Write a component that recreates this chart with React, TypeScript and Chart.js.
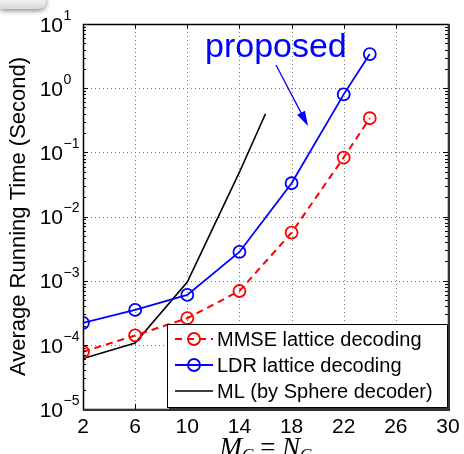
import React, { useEffect, useRef } from "react";
import { Chart, registerables } from "chart.js";

Chart.register(...registerables);

// Antenna counts (M_C = N_C)
const antennas = [2, 6, 10, 14, 18, 22, 24];
const mlAntennas = [2, 6, 10, 14, 16];

// Average running time in seconds
const mmseTime = [7.8e-5, 1.4e-4, 2.6e-4, 6.9e-4, 5.6e-3, 8.3e-2, 0.34];
const ldrTime = [2.2e-4, 3.5e-4, 6.0e-4, 2.8e-3, 3.3e-2, 0.8, 3.4];
const mlTime = [6.1e-5, 1.07e-4, 9.5e-4, 4.9e-2, 0.4];

const seriesLabels = [
  "MMSE lattice decoding",
  "LDR lattice decoding",
  "ML (by Sphere decoder)",
];

const xTicks = [2, 6, 10, 14, 18, 22, 26, 30];
const yExponents = [1, 0, -1, -2, -3, -4, -5];

const SANS = '"Liberation Sans", Arial, sans-serif';
const SERIF = '"Liberation Serif", "Times New Roman", serif';

const decorations = {
  id: "decorations",
  beforeDatasetsDraw(chart: any) {
    const { ctx, chartArea: a, scales } = chart;
    const xs = scales.x;
    const ys = scales.y;
    ctx.save();
    ctx.strokeStyle = "#7a7a7a";
    ctx.lineWidth = 1;
    ctx.setLineDash([1, 3]);
    xTicks.forEach((t) => {
      if (t === 2 || t === 30) return;
      const px = Math.round(xs.getPixelForValue(t)) + 0.5;
      ctx.beginPath();
      ctx.moveTo(px, a.top);
      ctx.lineTo(px, a.bottom);
      ctx.stroke();
    });
    yExponents.forEach((e) => {
      if (e === 1 || e === -5) return;
      const py = Math.round(ys.getPixelForValue(Math.pow(10, e))) + 0.5;
      ctx.beginPath();
      ctx.moveTo(a.left, py);
      ctx.lineTo(a.right, py);
      ctx.stroke();
    });
    ctx.restore();
  },
  afterDatasetsDraw(chart: any) {
    const { ctx, chartArea: a, scales } = chart;
    const xs = scales.x;
    const ys = scales.y;
    ctx.save();

    // tick marks
    ctx.strokeStyle = "#000";
    ctx.lineWidth = 1;
    ctx.setLineDash([]);
    xTicks.forEach((t) => {
      const px = Math.round(xs.getPixelForValue(t)) + 0.5;
      ctx.beginPath();
      ctx.moveTo(px, a.bottom);
      ctx.lineTo(px, a.bottom - 5);
      ctx.moveTo(px, a.top);
      ctx.lineTo(px, a.top + 5);
      ctx.stroke();
    });
    for (let e = -5; e < 1; e++) {
      for (let m = 1; m < 10; m++) {
        const py = Math.round(ys.getPixelForValue(m * Math.pow(10, e))) + 0.5;
        const len = m === 1 ? 5 : 3;
        ctx.beginPath();
        ctx.moveTo(a.left, py);
        ctx.lineTo(a.left + len, py);
        ctx.moveTo(a.right, py);
        ctx.lineTo(a.right - len, py);
        ctx.stroke();
      }
    }

    // frame
    ctx.lineWidth = 1.5;
    ctx.strokeRect(a.left + 0.5, a.top + 0.5, a.right - a.left, a.bottom - a.top);
    ctx.strokeStyle = "#333";
    ctx.lineWidth = 2;
    ctx.beginPath();
    ctx.moveTo(a.right + 1, a.top);
    ctx.lineTo(a.right + 1, a.bottom + 1);
    ctx.lineTo(a.left, a.bottom + 1);
    ctx.stroke();

    // tick labels
    ctx.fillStyle = "#000";
    ctx.textBaseline = "middle";
    ctx.font = `21px ${SANS}`;
    ctx.textAlign = "center";
    xTicks.forEach((t) => {
      ctx.fillText(String(t), xs.getPixelForValue(t), 427);
    });
    yExponents.forEach((e) => {
      const py = ys.getPixelForValue(Math.pow(10, e));
      ctx.font = `21px ${SANS}`;
      ctx.textAlign = "right";
      ctx.fillText("10", 63, py + 2);
      ctx.font = `14px ${SANS}`;
      ctx.textAlign = "left";
      ctx.fillText(e < 0 ? "\u2212" + Math.abs(e) : String(e), 63.5, py - 8);
    });

    // y-axis title
    ctx.save();
    ctx.translate(19, (a.top + a.bottom) / 2);
    ctx.rotate(-Math.PI / 2);
    ctx.font = `22px ${SANS}`;
    ctx.textAlign = "center";
    ctx.textBaseline = "middle";
    ctx.fillText("Average Running Time (Second)", 0, 0);
    ctx.restore();

    // x-axis title: M_C = N_C
    ctx.textBaseline = "alphabetic";
    ctx.textAlign = "left";
    const baseY = 456;
    const big = 27;
    const sub = `italic 17px ${SERIF}`;
    const parts: [string, string, number][] = [
      ["M", `italic ${big}px ${SERIF}`, 0],
      ["C", sub, 4],
      [" = ", `${big}px ${SERIF}`, 0],
      ["N", `italic ${big}px ${SERIF}`, 0],
      ["C", sub, 4],
    ];
    let total = 0;
    parts.forEach(([s, f]) => {
      ctx.font = f;
      total += ctx.measureText(s).width;
    });
    let cx = (a.left + a.right) / 2 - total / 2;
    parts.forEach(([s, f, dy]) => {
      ctx.font = f;
      ctx.fillText(s, cx, baseY + dy);
      cx += ctx.measureText(s).width;
    });

    // annotation
    ctx.fillStyle = "#0000ff";
    ctx.strokeStyle = "#0000ff";
    ctx.font = `34px ${SANS}`;
    ctx.textAlign = "left";
    ctx.fillText("proposed", 205, 57);
    const sx = 276, sy = 65, tx = 308, ty = 126;
    const ang = Math.atan2(ty - sy, tx - sx);
    ctx.lineWidth = 1.3;
    ctx.beginPath();
    ctx.moveTo(sx, sy);
    ctx.lineTo(tx - 10 * Math.cos(ang), ty - 10 * Math.sin(ang));
    ctx.stroke();
    ctx.beginPath();
    ctx.moveTo(tx, ty);
    const hl = 15, hw = 4.5;
    const bx = tx - hl * Math.cos(ang), by = ty - hl * Math.sin(ang);
    ctx.lineTo(bx + hw * Math.sin(ang), by - hw * Math.cos(ang));
    ctx.lineTo(bx - hw * Math.sin(ang), by + hw * Math.cos(ang));
    ctx.closePath();
    ctx.fill();

    // legend
    const lx = 167, ly = 324, lw = 280, lh = 83;
    ctx.fillStyle = "#333";
    ctx.fillRect(lx + 2, ly + 2, lw, lh);
    ctx.fillStyle = "#fff";
    ctx.fillRect(lx, ly, lw, lh);
    ctx.strokeStyle = "#000";
    ctx.lineWidth = 1;
    ctx.strokeRect(lx + 0.5, ly + 0.5, lw, lh);
    const rows = [339, 365, 391];
    chart.data.datasets.forEach((ds: any, i: number) => {
      const ry = rows[i];
      ctx.strokeStyle = ds.borderColor;
      ctx.lineWidth = ds.borderWidth;
      ctx.setLineDash(ds.borderDash || []);
      ctx.beginPath();
      ctx.moveTo(175, ry);
      ctx.lineTo(213, ry);
      ctx.stroke();
      ctx.setLineDash([]);
      if (ds.pointRadius > 0) {
        ctx.lineWidth = ds.pointBorderWidth;
        ctx.beginPath();
        ctx.arc(194, ry, ds.pointRadius, 0, Math.PI * 2);
        ctx.stroke();
      }
      ctx.fillStyle = "#000";
      ctx.font = `20px ${SANS}`;
      ctx.textBaseline = "middle";
      ctx.fillText(ds.label, 217, ry + 1);
    });

    ctx.restore();

    // tab shape at the top-left corner
    ctx.save();
    ctx.shadowColor = "rgba(0,0,0,0.45)";
    ctx.shadowBlur = 5;
    ctx.shadowOffsetY = 2;
    const g = ctx.createLinearGradient(0, 0, 0, 10);
    g.addColorStop(0, "#f2f2f2");
    g.addColorStop(1, "#d6d6d6");
    ctx.fillStyle = g;
    ctx.beginPath();
    ctx.moveTo(0, -5);
    ctx.lineTo(46, -5);
    ctx.lineTo(46, 2);
    ctx.quadraticCurveTo(46, 9, 38, 9);
    ctx.lineTo(0, 9);
    ctx.closePath();
    ctx.fill();
    ctx.restore();
  },
};

export default function App() {
  const ref = useRef<HTMLCanvasElement>(null);

  useEffect(() => {
    if (!ref.current) return;
    const toPoints = (xs: number[], ys: number[]) =>
      xs.map((x, i) => ({ x, y: ys[i] }));
    const chart = new Chart(ref.current, {
      type: "line",
      data: {
        datasets: [
          {
            label: seriesLabels[0],
            data: toPoints(antennas, mmseTime),
            borderColor: "#ff0000",
            borderWidth: 2,
            borderDash: [7, 5],
            pointRadius: 6,
            pointBorderWidth: 1.8,
            pointBorderColor: "#ff0000",
            pointBackgroundColor: "rgba(0,0,0,0)",
            tension: 0,
          },
          {
            label: seriesLabels[1],
            data: toPoints(antennas, ldrTime),
            borderColor: "#0000ff",
            borderWidth: 1.8,
            pointRadius: 6,
            pointBorderWidth: 1.8,
            pointBorderColor: "#0000ff",
            pointBackgroundColor: "rgba(0,0,0,0)",
            tension: 0,
          },
          {
            label: seriesLabels[2],
            data: toPoints(mlAntennas, mlTime),
            borderColor: "#000000",
            borderWidth: 1.6,
            pointRadius: 0,
            tension: 0,
          },
        ],
      },
      options: {
        responsive: false,
        animation: false,
        layout: { padding: { left: 83, right: 16, top: 24, bottom: 45 } },
        plugins: { legend: { display: false }, tooltip: { enabled: false } },
        scales: {
          x: {
            type: "linear",
            min: 2,
            max: 30,
            grid: { display: false },
            border: { display: false },
            ticks: { display: false },
            afterFit: (s: any) => {
              s.height = 0;
            },
          },
          y: {
            type: "logarithmic",
            min: 1e-5,
            max: 10,
            grid: { display: false },
            border: { display: false },
            ticks: { display: false },
            afterFit: (s: any) => {
              s.width = 0;
            },
          },
        },
      },
      plugins: [decorations],
    });
    return () => chart.destroy();
  }, []);

  return (
    <div style={{ position: "absolute", left: 0, top: 0, width: 464, height: 454, background: "#fff" }}>
      <canvas ref={ref} width={464} height={454} />
    </div>
  );
}
